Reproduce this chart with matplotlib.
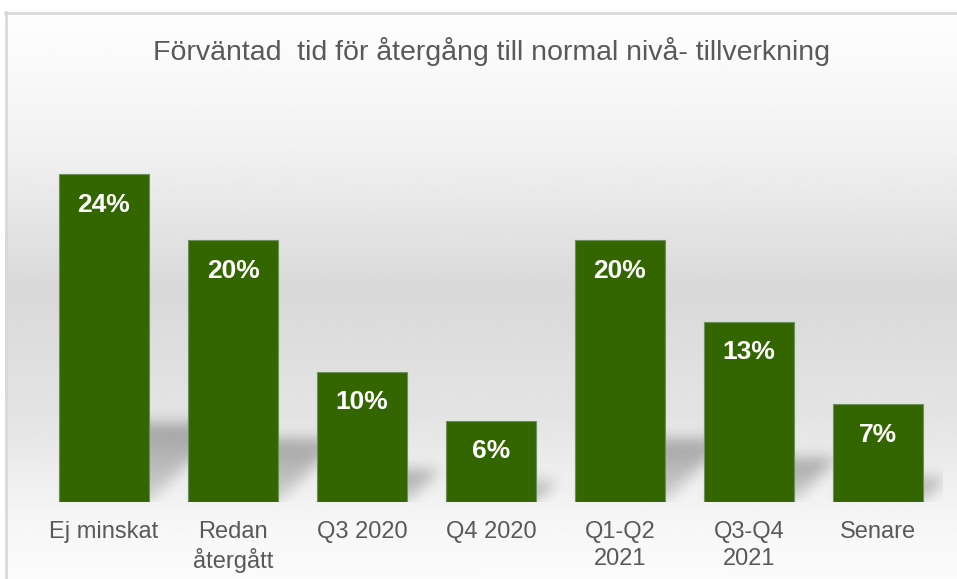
import numpy as np
import matplotlib
matplotlib.use('Agg')
import matplotlib.pyplot as plt

# data
categories = ['Ej minskat', 'Redan\nåtergått', 'Q3 2020', 'Q4 2020',
              'Q1-Q2\n2021', 'Q3-Q4\n2021', 'Senare']
values = [24.2, 19.3, 9.6, 6.0, 19.3, 13.3, 7.2]
value_labels = ['24%', '20%', '10%', '6%', '20%', '13%', '7%']
title = 'Förväntad  tid för återgång till normal nivå- tillverkning'

W, H = 957, 579
BAR_COLOR = '#336600'
TEXT_COLOR = '#595959'
PX_X = 129.0    # pixlar per kategori
PX_Y = 13.55    # pixlar per procentenhet

plt.rcParams['font.family'] = ['Liberation Sans', 'DejaVu Sans']

fig = plt.figure(figsize=(W / 100, H / 100), dpi=100)
fig.patch.set_facecolor('white')


def gradient_background():
    """Grå gradient bakom diagrammet, med tunn ram"""
    bg = fig.add_axes([0, 0, 1, 1], zorder=0)
    bg.set_xlim(0, W)
    bg.set_ylim(H, 0)
    bg.axis('off')
    rows = np.arange(12, H + 1)
    stops_y = [12, 60, 150, 290, 420, 520, 579]
    stops_v = [0.995, 0.98, 0.945, 0.85, 0.895, 0.965, 0.985]
    shade = np.interp(rows, stops_y, stops_v)
    img = np.repeat(shade[:, None], 2, axis=1)
    bg.imshow(img, cmap='gray', vmin=0, vmax=1, aspect='auto',
              extent=[5, W + 10, H, 12], interpolation='bilinear')
    bg.plot([5, W + 10], [12.5, 12.5], color='#d9d9d9', lw=2)
    bg.plot([5.5, 5.5], [12, H], color='#d9d9d9', lw=2)
    bg.set_xlim(0, W)


def blur(arr, sigma):
    r = int(3 * sigma)
    k = np.exp(-0.5 * (np.arange(-r, r + 1) / sigma) ** 2)
    k /= k.sum()
    arr = np.apply_along_axis(lambda m: np.convolve(m, k, mode='same'), 0, arr)
    arr = np.apply_along_axis(lambda m: np.convolve(m, k, mode='same'), 1, arr)
    return arr


def bar_shadows(ax, x, heights, width, ytop):
    """Mjuka perspektivskuggor bakom staplarna (diagonalt uppåt höger)"""
    nx, ny = 903, 422
    xs = np.linspace(-0.5, 6.5, nx)
    ys = np.linspace(0, ytop, ny)
    X, Y = np.meshgrid(xs, ys)
    mask = np.zeros_like(X)
    for xi, h in zip(x, heights):
        sh = 0.24 * h
        skew = sh * PX_Y / PX_X
        t = Y / sh
        left = xi - width / 2 + skew * t
        right = xi + width / 2 + skew * t
        inside = (Y >= 0) & (Y <= sh) & (X >= left) & (X <= right)
        weight = 0.45 + 0.55 * np.clip(t, 0, 1)
        mask[inside] = np.maximum(mask[inside], weight[inside])
    mask = blur(mask, 7)
    rgba = np.zeros((ny, nx, 4))
    rgba[..., 3] = 0.3 * mask
    ax.imshow(rgba, origin='lower', aspect='auto',
              extent=[-0.5, 6.5, 0, ytop], zorder=1, interpolation='bilinear')


gradient_background()

ax = fig.add_axes([39.5 / W, 77 / H, 903 / W, 422 / H], zorder=1)
ax.patch.set_alpha(0)
ytop = 422 / PX_Y
x = np.arange(len(categories))

bar_shadows(ax, x, values, 0.7, ytop)
bars = ax.bar(x, values, width=0.7, color=BAR_COLOR, edgecolor='#6f8f5a',
              linewidth=0.8, zorder=2)

for rect, lab in zip(bars, value_labels):
    ax.annotate(lab, (rect.get_x() + rect.get_width() / 2, rect.get_height()),
                xytext=(0, -22), textcoords='offset points',
                ha='center', va='center', color='white',
                fontsize=19, fontweight='bold', zorder=3)

ax.set_xlim(-0.5, 6.5)
ax.set_ylim(0, ytop)
ax.set_xticks(x)
ax.set_xticklabels(categories, fontsize=17, color=TEXT_COLOR, linespacing=1.25)
ax.tick_params(axis='x', length=0, pad=14)
ax.set_yticks([])
for s in ax.spines.values():
    s.set_visible(False)

fig.text(491 / W, (H - 60) / H, title, ha='center', va='baseline',
         fontsize=20.5, color=TEXT_COLOR)

fig.savefig('out.png', dpi=100)
plt.close(fig)
